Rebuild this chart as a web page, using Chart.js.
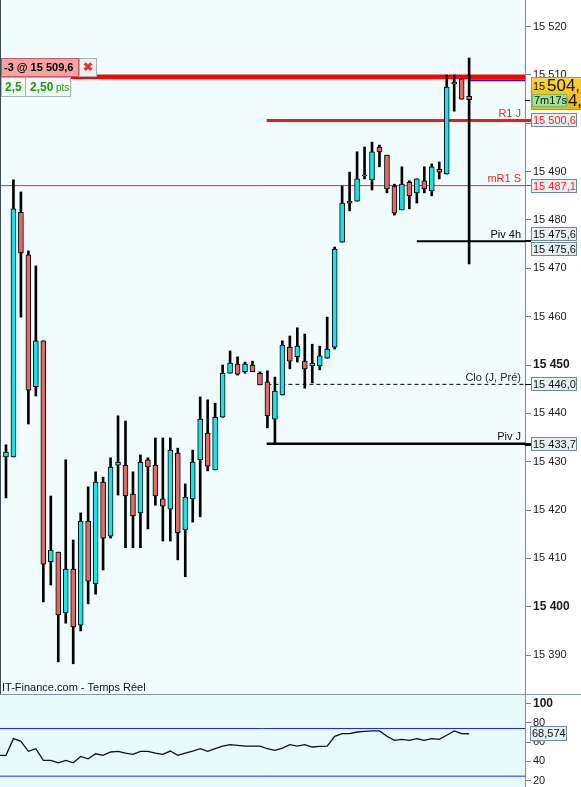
<!DOCTYPE html>
<html lang="fr">
<head>
<meta charset="utf-8">
<title>IT-Finance.com - Temps Réel</title>
<script src="https://cdn.jsdelivr.net/npm/chart.js@4.4.1/dist/chart.umd.min.js"></script>
<style>
  html, body { margin: 0; padding: 0; background: #fff; }
  #wrap { position: relative; width: 581px; height: 787px; overflow: hidden; background: #fff; }
  #priceChart { position: absolute; left: 0; top: 0; }
  #sep { position: absolute; left: 0; top: 694px; width: 581px; height: 1px; background: #8898a4; }
  #rsiChart { position: absolute; left: 0; top: 695px; }
</style>
</head>
<body>
<div id="wrap">
  <canvas id="priceChart" width="581" height="694"></canvas>
  <div id="sep"></div>
  <canvas id="rsiChart" width="581" height="92"></canvas>
</div>
<script>
// Intraday candles, oldest first
const opens = [15431.0, 15431.0, 15481.6, 15472.8, 15445.5, 15455.0, 15409.3, 15411.3, 15398.7, 15407.8,
  15396.2, 15417.7, 15404.7, 15425.8, 15414.6, 15429.3, 15429.3, 15423.3, 15419.4, 15430.4,
  15429.3, 15422.3, 15420.2, 15431.8, 15415.9, 15422.3, 15430.4, 15435.9, 15428.3, 15439.2,
  15448.3, 15450.2, 15448.6, 15450.0, 15448.3, 15446.5, 15438.8, 15443.8, 15453.7, 15451.7,
  15450.8, 15449.8, 15449.8, 15451.4, 15453.7, 15475.4, 15483.9, 15483.9, 15489.1, 15488.3,
  15495.1, 15493.4, 15487.0, 15482.1, 15487.8, 15485.6, 15488.1, 15486.0, 15490.5, 15489.5,
  15508.1, 15509.2, 15505.6];
const highs = [15433.5, 15488.3, 15485.8, 15473.6, 15470.5, 15455.0, 15422.9, 15411.3, 15430.4, 15413.8,
  15419.4, 15424.8, 15427.9, 15426.8, 15430.8, 15439.5, 15438.4, 15427.9, 15431.4, 15430.8,
  15434.9, 15434.9, 15434.9, 15432.8, 15425.4, 15432.4, 15443.4, 15442.8, 15442.1, 15450.0,
  15452.9, 15451.7, 15450.6, 15450.8, 15448.6, 15448.8, 15447.5, 15455.0, 15456.0, 15457.7,
  15456.4, 15454.3, 15453.9, 15459.9, 15474.4, 15487.0, 15489.9, 15494.1, 15495.1, 15496.1,
  15495.5, 15493.4, 15487.4, 15491.0, 15488.1, 15488.5, 15491.0, 15491.6, 15492.0, 15510.0,
  15510.0, 15509.2, 15513.5];
const lows = [15422.5, 15431.0, 15459.9, 15437.8, 15443.6, 15401.0, 15404.5, 15388.6, 15396.6, 15388.2,
  15395.0, 15400.6, 15402.6, 15407.6, 15414.2, 15423.1, 15412.2, 15412.2, 15412.2, 15416.1,
  15421.0, 15413.6, 15413.6, 15409.7, 15406.2, 15417.5, 15418.6, 15428.1, 15428.3, 15439.2,
  15448.3, 15447.9, 15448.3, 15448.6, 15445.9, 15437.0, 15433.7, 15443.8, 15449.2, 15450.6,
  15445.2, 15446.3, 15449.0, 15451.4, 15453.3, 15475.4, 15481.9, 15483.9, 15488.5, 15486.2,
  15491.0, 15485.6, 15481.0, 15482.1, 15482.3, 15483.5, 15485.6, 15485.0, 15488.5, 15489.5,
  15502.5, 15505.0, 15470.9];
const closes = [15432.0, 15482.3, 15473.2, 15444.8, 15455.0, 15408.8, 15411.7, 15398.3, 15407.8, 15395.8,
  15417.7, 15405.3, 15425.8, 15414.2, 15428.9, 15429.9, 15422.9, 15418.8, 15429.9, 15428.9,
  15422.9, 15420.8, 15432.4, 15415.3, 15422.7, 15429.9, 15438.8, 15429.1, 15439.2, 15448.3,
  15450.4, 15448.1, 15450.2, 15448.6, 15445.9, 15439.5, 15444.6, 15454.1, 15450.8, 15453.9,
  15449.2, 15450.4, 15451.9, 15453.3, 15474.0, 15483.5, 15483.5, 15488.5, 15489.3, 15494.1,
  15494.1, 15486.4, 15481.4, 15487.4, 15485.0, 15488.5, 15486.4, 15491.0, 15489.9, 15507.5,
  15508.5, 15505.0, 15504.9];

// Price axis tick labels
const priceTicks = [15390, 15400, 15410, 15420, 15430, 15440, 15450, 15460, 15470, 15480, 15490, 15500, 15510, 15520];

// Pivot / reference levels
const levelNames = ['R1 J', 'mR1 S', 'Piv 4h', 'Clo (J, Pré)', 'Piv J'];
const levelValues = [15500.6, 15487.1, 15475.6, 15446.0, 15433.7];

// Open position and last trade
const orderQty = -3;
const orderPrice = 15509.6;
const orderGain = [2.5, 2.50];
const sessionHigh = 15508.9;
const lastPrice = 15504.9;
const barTimer = '7m17s';

// RSI oscillator (first value belongs to the bar just left of the window)
const rsiValues = [46.1, 46.1, 63.5, 60.7, 50.3, 53.0, 40.9, 40.9, 38.4, 40.9, 38.4, 45.0, 42.6, 47.8, 46.1, 49.6,
  50.3, 48.5, 47.1, 50.3, 50.3, 48.5, 47.1, 50.6, 46.1, 48.5, 50.6, 53.0, 50.3, 53.0, 55.8, 57.2,
  56.5, 55.8, 55.8, 55.8, 53.0, 51.3, 53.7, 57.2, 55.8, 57.2, 54.8, 55.5, 55.8, 65.9, 68.7, 68.7,
  70.4, 71.1, 71.5, 71.5, 65.9, 61.7, 62.8, 61.7, 63.5, 61.7, 63.5, 62.8, 67.0, 71.5, 68.6, 68.574];
const rsiTicks = [20, 40, 60, 80, 100];
const rsiBands = [74, 24.5];

// ---- presentation ----
const FAMILY = "'Liberation Sans', Arial, sans-serif";
const CYAN = '#16e4ea';
const RED = '#e06a66';
const X_MIN = -0.8, X_MAX = 69.48;
const AXIS_W = 56;
const font = (size, weight) => (weight ? weight + ' ' : '') + size + 'px ' + FAMILY;

const levelStyle = [
  { color: '#ff1414', width: 3,   from: 34.9,  dash: [],     text: '#ff2020', boxText: '#ff2020', boxes: [0] },
  { color: '#ff2020', width: 1,   from: X_MIN, dash: [],     text: '#ff2020', boxText: '#ff2020', boxes: [0] },
  { color: '#000000', width: 2,   from: 55,    dash: [],     text: '#000000', boxText: '#111111', boxes: [-7.5, 8] },
  { color: '#000000', width: 1,   from: 35,    dash: [4, 3], text: '#222222', boxText: '#111111', boxes: [0] },
  { color: '#000000', width: 2.5, from: 34.9,  dash: [],     text: '#111111', boxText: '#111111', boxes: [0] }
];

function groupThousands(s) { return s.replace(/\B(?=(\d{3})+(?!\d))/g, ' '); }
function fmtPrice(v) {
  const p = v.toFixed(1).split('.');
  return groupThousands(p[0]) + ',' + p[1];
}

function valueBox(ctx, x, cy, w, h, text, color) {
  const top = Math.round(cy - h / 2);
  ctx.fillStyle = '#e8f0f1';
  ctx.fillRect(x, top, w, h);
  ctx.strokeStyle = '#6d8b98';
  ctx.lineWidth = 1;
  ctx.strokeRect(x + 0.5, top + 0.5, w - 1, h - 1);
  ctx.fillStyle = color;
  ctx.font = font(11);
  ctx.textAlign = 'left';
  ctx.textBaseline = 'middle';
  ctx.fillText(text, x + 2, top + h / 2 + 0.5);
}

const idx = opens.map((_, i) => i);

const levelDatasets = levelValues.map((v, k) => ({
  type: 'line',
  data: [{ x: levelStyle[k].from, y: v }, { x: X_MAX, y: v }],
  borderColor: levelStyle[k].color,
  borderWidth: levelStyle[k].width,
  borderDash: levelStyle[k].dash,
  pointRadius: 0,
  order: 5
}));

const priceDecor = {
  id: 'priceDecor',
  beforeDraw(chart) {
    const { ctx, chartArea: a } = chart;
    ctx.save();
    ctx.fillStyle = '#ffffff';
    ctx.fillRect(0, 0, chart.width, chart.height);
    ctx.fillStyle = '#f1fdfd';
    ctx.fillRect(a.left, a.top, a.right - a.left, a.bottom - a.top);
    ctx.restore();
  },
  afterDraw(chart) {
    const { ctx, chartArea: a, scales: { y } } = chart;
    ctx.save();
    // left frame edge
    ctx.fillStyle = '#3d4d58';
    ctx.fillRect(0, 0, 1, a.bottom);

    // level captions and price tags
    levelNames.forEach((name, k) => {
      const st = levelStyle[k];
      const py = y.getPixelForValue(levelValues[k]);
      ctx.font = font(11);
      ctx.textAlign = 'right';
      ctx.textBaseline = 'alphabetic';
      ctx.fillStyle = st.text;
      ctx.fillText(name, a.right - 4, py - 3.5);
      ctx.fillStyle = st.color;
      ctx.fillRect(a.right, Math.round(py - st.width / 2), 6, Math.max(1, Math.round(st.width)));
      st.boxes.forEach(off => valueBox(ctx, 531, py + off, 46, 14, fmtPrice(levelValues[k]), st.boxText));
    });

    // last price tag
    const lp = fmtPrice(lastPrice);
    const head = lp.slice(0, lp.indexOf(' '));
    const tail = lp.slice(lp.indexOf(' ') + 1);
    const g = ctx.createLinearGradient(0, 77, 0, 110);
    g.addColorStop(0, '#fcd444');
    g.addColorStop(1, '#f1b500');
    ctx.fillStyle = g;
    ctx.fillRect(531, 77, 50, 33);
    ctx.strokeStyle = '#c99a00';
    ctx.strokeRect(531.5, 77.5, 52, 32);
    ctx.fillStyle = '#111';
    ctx.textAlign = 'left';
    ctx.textBaseline = 'middle';
    ctx.font = font(11);
    ctx.fillText(head, 533, 87);
    ctx.font = font(17);
    ctx.fillText(tail, 547, 86);
    ctx.fillText(tail, 549, 101);
    ctx.fillStyle = '#9fe492';
    ctx.fillRect(532, 94, 35, 13);
    ctx.strokeStyle = '#76b86e';
    ctx.strokeRect(532.5, 94.5, 34, 12);
    ctx.fillStyle = '#111';
    ctx.font = font(11);
    ctx.fillText(barTimer, 534, 101);
    // current price pointer
    ctx.fillStyle = '#111';
    ctx.fillRect(a.right, Math.round(y.getPixelForValue(lastPrice)), 5, 1);

    // position ticket
    ctx.fillStyle = '#f4a4a4';
    ctx.fillRect(1, 58, 78, 19);
    ctx.strokeStyle = '#c85a5a';
    ctx.strokeRect(1.5, 58.5, 77, 18);
    ctx.fillStyle = '#000';
    ctx.font = font(11, 'bold');
    ctx.textAlign = 'left';
    ctx.fillText(orderQty + ' @ ' + fmtPrice(orderPrice), 4, 68);
    ctx.fillStyle = '#eeeeee';
    ctx.fillRect(79, 58, 18, 19);
    ctx.strokeStyle = '#a9b0b3';
    ctx.strokeRect(79.5, 58.5, 17, 18);
    ctx.fillStyle = '#e23232';
    ctx.font = font(12, 'bold');
    ctx.textAlign = 'center';
    ctx.fillText('\u2716', 88, 68);

    ctx.fillStyle = '#f5f8f5';
    ctx.fillRect(1, 77, 70, 20);
    ctx.strokeStyle = '#a9b4b4';
    ctx.strokeRect(1.5, 77.5, 24, 19);
    ctx.strokeRect(25.5, 77.5, 45, 19);
    ctx.fillStyle = '#13a013';
    ctx.textAlign = 'left';
    ctx.font = font(12, 'bold');
    ctx.fillText(orderGain[0].toFixed(1).replace('.', ','), 5, 87.5);
    ctx.fillText(orderGain[1].toFixed(2).replace('.', ','), 30, 87.5);
    ctx.font = font(10);
    ctx.fillText('pts', 56, 88);

    // footer
    ctx.fillStyle = '#111';
    ctx.font = font(11);
    ctx.textAlign = 'left';
    ctx.textBaseline = 'middle';
    ctx.fillText('IT-Finance.com - Temps Réel', 2, 688);
    ctx.restore();
  }
};

new Chart(document.getElementById('priceChart'), {
  type: 'bar',
  data: {
    datasets: [
      {
        label: 'wick',
        data: idx.map(i => ({ x: i, y: [lows[i], highs[i]] })),
        backgroundColor: '#000',
        barThickness: 2,
        grouped: false,
        order: 3
      },
      {
        label: 'body',
        data: idx.map(i => ({ x: i, y: [opens[i], closes[i]] })),
        backgroundColor: idx.map(i => closes[i] >= opens[i] ? CYAN : RED),
        borderColor: '#000',
        borderWidth: 1,
        borderSkipped: false,
        barThickness: 5,
        grouped: false,
        order: 2
      },
      {
        type: 'line',
        data: [{ x: X_MIN, y: orderPrice }, { x: X_MAX, y: orderPrice }],
        borderColor: '#ff0000',
        borderWidth: 4.5,
        pointRadius: 0,
        order: 6
      },
      {
        type: 'line',
        data: [{ x: idx[idx.length - 1], y: sessionHigh }, { x: X_MAX, y: sessionHigh }],
        borderColor: '#1c1cd8',
        borderWidth: 2,
        pointRadius: 0,
        order: 4
      },
      ...levelDatasets
    ]
  },
  options: {
    responsive: false,
    animation: false,
    events: [],
    layout: { padding: 0 },
    plugins: { legend: { display: false }, tooltip: { enabled: false } },
    scales: {
      x: { type: 'linear', min: X_MIN, max: X_MAX, display: false, offset: false, grid: { offset: false } },
      y: {
        position: 'right',
        min: 15381.95,
        max: 15525.5,
        afterBuildTicks: s => { s.ticks = priceTicks.map(v => ({ value: v })); },
        afterFit: s => { s.width = AXIS_W; s.paddingTop = 0; s.paddingBottom = 0; },
        ticks: {
          padding: 2,
          color: '#1a1a1a',
          font: c => (c.tick && c.tick.value % 50 === 0) ? { family: FAMILY, size: 12, weight: 'bold' } : { family: FAMILY, size: 11 },
          callback: v => groupThousands(String(v))
        },
        grid: { drawOnChartArea: false, drawTicks: true, tickLength: 6, color: '#6f7f8b' },
        border: { display: true, color: '#7d8d99', width: 1 }
      }
    }
  },
  plugins: [priceDecor]
});

const rsiDecor = {
  id: 'rsiDecor',
  beforeDraw(chart) {
    const { ctx, chartArea: a } = chart;
    ctx.save();
    ctx.fillStyle = '#ffffff';
    ctx.fillRect(0, 0, chart.width, chart.height);
    ctx.fillStyle = '#e7fbfb';
    ctx.fillRect(a.left, a.top, a.right - a.left, a.bottom - a.top);
    ctx.restore();
  },
  afterDraw(chart) {
    const { ctx, scales: { y } } = chart;
    const last = rsiValues[rsiValues.length - 1];
    ctx.save();
    valueBox(ctx, 530, y.getPixelForValue(last), 37, 15, last.toFixed(3).replace('.', ','), '#111');
    ctx.restore();
  }
};

new Chart(document.getElementById('rsiChart'), {
  type: 'line',
  data: {
    datasets: [
      {
        data: rsiValues.map((v, i) => ({ x: i - 1, y: v })),
        borderColor: '#111',
        borderWidth: 1.3,
        pointRadius: 0,
        tension: 0
      },
      ...rsiBands.map(b => ({
        data: [{ x: X_MIN, y: b }, { x: X_MAX, y: b }],
        borderColor: '#2a2ad4',
        borderWidth: 1,
        pointRadius: 0
      }))
    ]
  },
  options: {
    responsive: false,
    animation: false,
    events: [],
    layout: { padding: 0 },
    plugins: { legend: { display: false }, tooltip: { enabled: false } },
    scales: {
      x: { type: 'linear', min: X_MIN, max: X_MAX, display: false },
      y: {
        position: 'right',
        min: 13.25,
        max: 108.83,
        afterBuildTicks: s => { s.ticks = rsiTicks.map(v => ({ value: v })); },
        afterFit: s => { s.width = AXIS_W; s.paddingTop = 0; s.paddingBottom = 0; },
        ticks: {
          padding: 2,
          color: '#1a1a1a',
          font: c => (c.tick && c.tick.value === 100) ? { family: FAMILY, size: 12, weight: 'bold' } : { family: FAMILY, size: 11 }
        },
        grid: { drawOnChartArea: false, drawTicks: true, tickLength: 6, color: '#6f7f8b' },
        border: { display: true, color: '#7d8d99', width: 1 }
      }
    }
  },
  plugins: [rsiDecor]
});
</script>
</body>
</html>
